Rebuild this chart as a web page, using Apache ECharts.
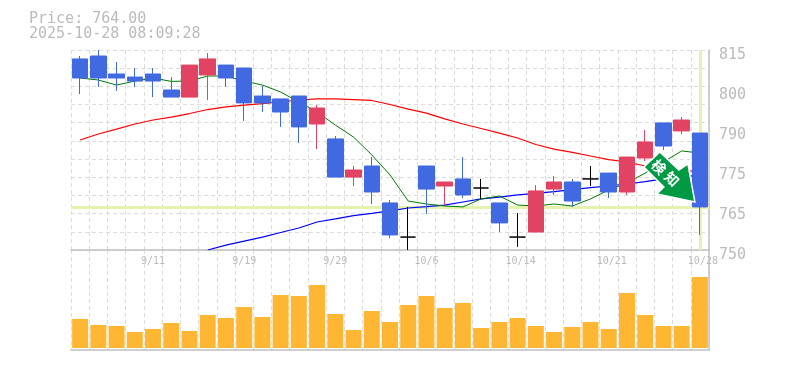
<!DOCTYPE html>
<html>
<head>
<meta charset="utf-8">
<style>
	html, body { margin: 0; padding: 0; background: #fff; }
	#chart { width: 785px; height: 370px; }
</style>
<script src="https://cdn.jsdelivr.net/npm/echarts@6/dist/echarts.min.js"></script>
</head>
<body>
<div id="chart"></div>
<script>
const priceTitle = 'Price: 764.00';
const timeTitle = '2025-10-28 08:09:28';
const lastPrice = 764;
const priceLabels = ['750', '765', '775', '790', '800', '815'];
const arrowText = ['検', '知'];

const dates = ['9/5', '9/8', '9/9', '9/10', '9/11', '9/12', '9/16', '9/17', '9/18', '9/19',
	'9/22', '9/24', '9/25', '9/26', '9/29', '9/30', '10/1', '10/2', '10/3', '10/6',
	'10/7', '10/8', '10/9', '10/10', '10/14', '10/15', '10/16', '10/17', '10/20', '10/21',
	'10/22', '10/23', '10/24', '10/27', '10/28'];

const opens = [812.1, 813.05, 807.2, 806.2, 807.2, 802, 799.7, 806.9, 810.1, 809.15,
	800.05, 799.1, 800.05, 790.95, 786.1, 773.7, 777.3, 765.3, 754.2, 777.3,
	770.8, 773.1, 770.15, 765.3, 754.2, 755.85, 769.8, 772.1, 773.1, 775,
	768.85, 779.9, 791.3, 788.7, 788];
const closes = [805.9, 805.9, 805.9, 804.9, 804.9, 799.7, 810.1, 812.1, 805.9, 797.8,
	797.8, 794.85, 790, 796.15, 773.7, 776, 768.85, 754.9, 754.2, 769.8,
	772.1, 767.9, 770.15, 758.8, 754.2, 769.2, 772.1, 765.9, 773.1, 768.85,
	780.2, 785.1, 783.8, 792.25, 764];
const lows = [800.7, 803, 801.7, 803, 799.7, 799.7, 799.7, 798.75, 803, 791.9,
	794.85, 790, 784.8, 782.8, 773.7, 770.8, 764.95, 753.9, 750, 761.7,
	764.6, 766.9, 766.6, 755.85, 751, 755.85, 767.9, 764, 770.8, 766.9,
	767.9, 778.9, 782.5, 787.7, 754.9];
const highs = [813.05, 815, 811.1, 809.15, 809.15, 806.2, 810.1, 814, 810.1, 809.15,
	803.3, 799.1, 800.05, 797.1, 787.05, 777.3, 780.2, 766.25, 764, 777.3,
	772.1, 780.2, 773.1, 765.3, 762, 771.1, 774.05, 773.1, 777.3, 775,
	780.2, 789, 791.3, 793.2, 788];

const maShort = [805.9, 805.25, 803.6, 804.9, 805.9, 804.8, 804.9, 806.55, 806.55, 804.9,
	803.6, 801.35, 798.1, 794.85, 790.6, 786.7, 780.9, 774.4, 765.9, 764.95,
	764.3, 764, 766.6, 767.55, 764.6, 764.3, 764.95, 764.3, 766.6, 769.5,
	771.8, 775, 778.6, 782.2, 781.5];
const maMiddle = [785.75, 787.7, 789.3, 790.95, 792.25, 793.2, 794.35, 795.65, 796.5, 797.1,
	797.6, 798.1, 798.75, 799.1, 799.1, 798.9, 798.6, 797.3, 795.8, 794.5,
	792.6, 790.95, 789.5, 788, 786.4, 784.3, 782.8, 781.7, 780.55, 779.4,
	778.6, 777.3, 776.65, 776, 775.35];
const maLong = [null, null, null, null, null, null, null, 750, 751.6, 752.9,
	754.2, 755.7, 757.15, 759.1, 760.1, 761.2, 761.9, 762.7, 763.65, 764.1,
	764.6, 765.6, 766.6, 767.2, 767.9, 768.4, 769, 769.65, 770.3, 770.8,
	771.45, 772.25, 773.1, 773.7, 774.4];

const volumes = [29, 23, 22, 16, 19, 25, 17, 33, 30, 41,
	31, 53, 52, 63, 34, 18, 37, 26, 43, 52,
	40, 45, 20, 26, 30, 22, 16, 21, 26, 19,
	55, 33, 22, 22, 71];

document.addEventListener('DOMContentLoaded', function() {
	const labelFont = 'DejaVu Sans Mono';
	const labelColor = '#bbbbbb';
	const gridLine = { show: true, lineStyle: { color: '#dcdcdc', width: 1, type: [4, 3] } };
	const frameLine = { lineStyle: { color: '#c0c0c0', width: 1.5 } };
	const chart = echarts.init(document.getElementById('chart'));
	const candles = dates.map(function(d, i) {
		return [opens[i], closes[i], lows[i], highs[i]];
	});

	chart.setOption({
		animation: false,
		title: {
			text: priceTitle + '\n' + timeTitle,
			left: 24, top: 7,
			textStyle: { fontFamily: labelFont, fontSize: 15, fontWeight: 'normal', color: labelColor, lineHeight: 15 }
		},
		grid: [
			{ left: 71, width: 638, top: 50, height: 200 },
			{ left: 71, width: 638, top: 250, height: 100 }
		],
		xAxis: [
			{
				type: 'category', gridIndex: 0, data: dates,
				axisLine: { onZero: false, ...frameLine },
				axisTick: { show: false },
				splitLine: { ...gridLine, interval: 0 },
				axisLabel: {
					interval: function(i) { return i % 5 === 4; },
					margin: 6,
					color: labelColor, fontFamily: labelFont, fontSize: 10,
					formatter: function(v) { return v.length > 4 ? '{wide|' + v + '}' : v; },
					rich: { wide: { padding: [0, 0, 0, 6], color: labelColor, fontFamily: labelFont, fontSize: 10 } }
				}
			},
			{
				type: 'category', gridIndex: 1, data: dates,
				axisLine: { onZero: false, ...frameLine },
				axisTick: { show: false },
				axisLabel: { show: false },
				splitLine: { ...gridLine, interval: 0 }
			}
		],
		yAxis: [
			{ type: 'value', gridIndex: 0, min: 750, max: 815, show: false, splitLine: { show: false } },
			// 11 dashed rows, independent of the price labels
			{
				type: 'value', gridIndex: 0, position: 'right', min: 0, max: 11, interval: 1,
				axisLine: { show: true, ...frameLine }, axisTick: { show: false }, axisLabel: { show: false },
				splitLine: gridLine
			},
			{
				type: 'value', gridIndex: 0, position: 'right', min: 0, max: 5, interval: 1,
				axisLine: { show: false }, axisTick: { show: false }, splitLine: { show: false },
				axisLabel: {
					margin: 10, verticalAlign: 'top', lineHeight: 10,
					color: labelColor, fontFamily: labelFont, fontSize: 15,
					formatter: function(v) { return priceLabels[v]; }
				}
			},
			{
				type: 'value', gridIndex: 1, position: 'right', min: -2, max: 98,
				axisLine: { show: true, ...frameLine }, axisTick: { show: false }, axisLabel: { show: false },
				splitLine: { show: false }
			}
		],
		series: [
			{
				type: 'line', name: 'MA long', data: maLong, z: 3,
				symbol: 'none', lineStyle: { color: '#0000ff', width: 1.2 },
				markLine: {
					silent: true, symbol: 'none', animation: false, z: 1,
					label: { show: false },
					lineStyle: { color: '#e3f3ae', width: 3, type: 'solid' },
					data: [{ yAxis: lastPrice }, { xAxis: dates.length - 1 }]
				}
			},
			{ type: 'line', name: 'MA middle', data: maMiddle, z: 3, symbol: 'none', lineStyle: { color: '#ff0000', width: 1.2 } },
			{ type: 'line', name: 'MA short', data: maShort, z: 3, symbol: 'none', lineStyle: { color: '#007a00', width: 1 } },
			{
				type: 'candlestick', name: 'Price', data: candles, z: 4, barWidth: 16,
				itemStyle: {
					color: '#e24362', color0: '#4169e1',
					borderColor: '#e24362', borderColor0: '#4169e1', borderColorDoji: '#000000',
					borderWidth: 1
				}
			},
			{
				type: 'bar', name: 'Volume', data: volumes, xAxisIndex: 1, yAxisIndex: 3,
				barWidth: 16, itemStyle: { color: '#ffb733' }
			}
		]
	});

	// arrow sign, anchored just off the last price
	const tip = chart.convertToPixel({ xAxisIndex: 0, yAxisIndex: 0 }, [dates.length - 1, lastPrice]);
	const sx = tip[0] - 5, sy = tip[1] - 5;
	chart.setOption({
		graphic: [
			{
				type: 'polygon', z: 20,
				shape: { points: [[sx - 35, sy - 50], [sx - 16, sy - 32], [sx - 7, sy - 38], [sx, sy], [sx - 38, sy - 8], [sx - 31, sy - 15], [sx - 51, sy - 35]] },
				style: { fill: '#009944', stroke: '#ffffff', lineWidth: 1.5 }
			},
			{
				type: 'text', z: 21, x: sx - 36, y: sy - 35, rotation: -Math.PI / 4,
				style: { text: arrowText[0], fill: '#ffffff', font: 'bold 14px "Noto Sans CJK JP"', align: 'center', verticalAlign: 'middle' }
			},
			{
				type: 'text', z: 21, x: sx - 23, y: sy - 23, rotation: -Math.PI / 4,
				style: { text: arrowText[1], fill: '#ffffff', font: 'bold 14px "Noto Sans CJK JP"', align: 'center', verticalAlign: 'middle' }
			}
		]
	});
});
</script>
</body>
</html>
